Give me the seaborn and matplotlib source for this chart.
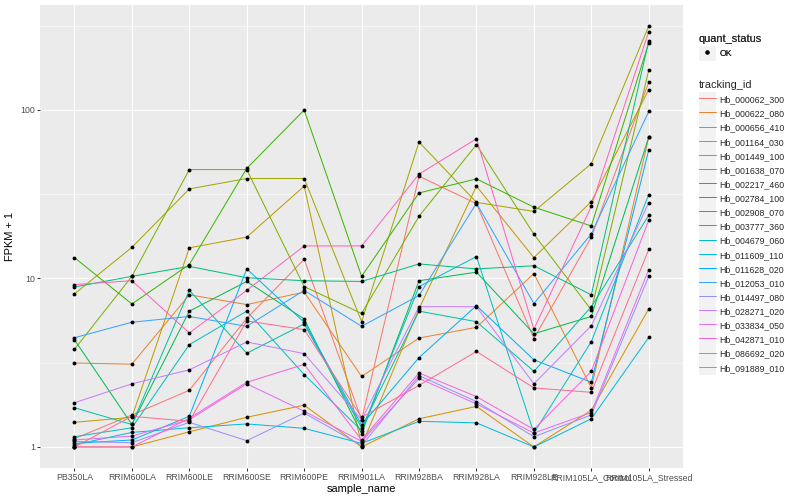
import matplotlib
matplotlib.use('Agg')
from matplotlib import pyplot as plt
from matplotlib.lines import Line2D
from matplotlib.patches import Rectangle
from matplotlib.legend_handler import HandlerLine2D
from matplotlib.ticker import FixedLocator, NullFormatter
import numpy as np
import pandas as pd
import seaborn as sns


samples = ['PB350LA', 'RRIM600LA', 'RRIM600LE', 'RRIM600SE', 'RRIM600PE',
           'RRIM901LA', 'RRIM928BA', 'RRIM928LA', 'RRIM928LE',
           'RRIM105LA_Control', 'RRIM105LA_Stressed']

genes = ['Hb_000062_300', 'Hb_000622_080', 'Hb_000656_410', 'Hb_001164_030',
         'Hb_001449_100', 'Hb_001638_070', 'Hb_002217_460', 'Hb_002784_100',
         'Hb_002908_070', 'Hb_003777_360', 'Hb_004679_060', 'Hb_011609_110',
         'Hb_011628_020', 'Hb_012053_010', 'Hb_014497_080', 'Hb_028271_020',
         'Hb_033834_050', 'Hb_042871_010', 'Hb_086692_020', 'Hb_091889_010']

# ggplot hue_pal()(20)
palette = ['#F8766D', '#EA8331', '#D89000', '#C09B00', '#A3A500', '#7CAE00',
           '#39B600', '#00BB4E', '#00BF7D', '#00C1A3', '#00BFC4', '#00BAE0',
           '#00B0F6', '#35A2FF', '#9590FF', '#C77CFF', '#E76BF3', '#FA62DB',
           '#FF62BC', '#FF6C91']

# FPKM + 1, one value per sample (order of samples)
hb_000062_300 = [1.12, 1.55, 2.17, 5.8, 13.0, 1.45, 40.5, 27.8, 4.4, 17.6, 146]
hb_000622_080 = [3.15, 3.1, 8.0, 7.0, 8.3, 2.62, 4.43, 5.13, 10.7, 2.24, 69]
hb_000656_410 = [1.0, 1.0, 1.23, 1.5, 1.77, 1.0, 1.47, 1.74, 1.0, 1.65, 6.6]
hb_001164_030 = [1.4, 1.5, 15.2, 17.6, 35.3, 1.02, 6.6, 35.3, 13.3, 28.6, 132]
hb_001449_100 = [8.1, 15.3, 34.0, 39.2, 39.2, 5.55, 64.5, 28.3, 25.0, 48.0, 315]
hb_001638_070 = [3.8, 10.3, 44.3, 44.3, 8.95, 6.2, 23.4, 62.3, 18.3, 6.5, 172]
hb_002217_460 = [13.3, 7.06, 12.1, 45.0, 100.0, 10.3, 32.2, 39.0, 26.5, 20.5, 250]
hb_002784_100 = [4.33, 1.36, 6.4, 9.6, 5.75, 1.2, 9.7, 10.9, 4.7, 5.95, 69]
hb_002908_070 = [8.9, 10.3, 11.8, 10.1, 9.7, 9.6, 12.2, 11.4, 11.9, 8.0, 258]
hb_003777_360 = [1.71, 1.36, 8.5, 3.6, 5.37, 1.3, 6.4, 5.54, 2.81, 6.8, 23.7]
hb_004679_060 = [1.15, 1.3, 4.05, 6.4, 2.69, 1.25, 8.95, 13.5, 1.21, 4.22, 31.5]
hb_011609_110 = [1.03, 1.22, 1.3, 1.37, 1.29, 1.05, 1.42, 1.39, 1.0, 1.47, 4.47]
hb_011628_020 = [1.05, 1.1, 1.52, 11.4, 5.5, 1.35, 3.39, 6.9, 3.29, 2.42, 58]
hb_012053_010 = [4.45, 5.5, 5.95, 5.2, 8.5, 5.2, 7.93, 28.0, 7.1, 18.4, 98]
hb_014497_080 = [1.08, 1.06, 1.4, 1.09, 1.59, 1.02, 2.65, 1.86, 1.15, 1.55, 10.3]
hb_028271_020 = [1.83, 2.37, 2.87, 4.2, 3.58, 1.45, 6.8, 6.8, 2.37, 5.24, 28.2]
hb_033834_050 = [1.1, 1.16, 1.45, 2.37, 1.63, 1.08, 2.55, 1.8, 1.21, 1.6, 11.3]
hb_042871_010 = [1.0, 1.0, 1.48, 2.42, 3.09, 1.1, 2.75, 1.99, 1.27, 2.81, 22.2]
hb_086692_020 = [9.2, 9.7, 4.75, 8.5, 15.6, 15.6, 41.6, 67.5, 5.0, 26.8, 292]
hb_091889_010 = [1.0, 1.52, 1.42, 5.6, 4.97, 1.5, 2.32, 3.69, 2.24, 2.11, 14.9]

series = [hb_000062_300, hb_000622_080, hb_000656_410, hb_001164_030,
          hb_001449_100, hb_001638_070, hb_002217_460, hb_002784_100,
          hb_002908_070, hb_003777_360, hb_004679_060, hb_011609_110,
          hb_011628_020, hb_012053_010, hb_014497_080, hb_028271_020,
          hb_033834_050, hb_042871_010, hb_086692_020, hb_091889_010]


class KeyHandler(HandlerLine2D):
    # grey ggplot-like key box behind the legend glyph
    def create_artists(self, legend, orig_handle, xdescent, ydescent,
                       width, height, fontsize, trans):
        box = Rectangle((-xdescent, -ydescent - 2), width, height + 4,
                        facecolor='#F2F2F2', edgecolor='none', transform=trans)
        arts = HandlerLine2D.create_artists(self, legend, orig_handle, xdescent,
                                            ydescent, width, height, fontsize, trans)
        return [box] + arts


def BuildData():
    rows = []
    for gene, vals in zip(genes, series):
        for i, v in enumerate(vals):
            rows.append({'tracking_id': gene, 'pos': i,
                         'sample_name': samples[i], 'fpkm': v})
    return pd.DataFrame(rows)


def PlotAll(pd_data, out):
    sns.set_theme(style='darkgrid', rc={'axes.facecolor': '#EBEBEB',
                                        'grid.color': 'white'})
    plt.rcParams['font.family'] = ['Liberation Sans', 'DejaVu Sans']
    fig = plt.figure(figsize=(800 / 72.0, 500 / 72.0), dpi=72)
    ax = fig.add_axes([0.05, 0.064, 0.804, 0.926])

    sns.lineplot(data=pd_data, x='pos', y='fpkm', hue='tracking_id',
                 hue_order=genes, palette=palette, sort=False, estimator=None,
                 linewidth=1.0, legend=False, ax=ax)
    sns.scatterplot(data=pd_data, x='pos', y='fpkm', color='black', s=15,
                    linewidth=0, legend=False, ax=ax, zorder=3)

    ax.set_yscale('log')
    lo = np.log10(pd_data['fpkm'].min())
    hi = np.log10(pd_data['fpkm'].max())
    span = hi - lo
    ax.set_ylim(10 ** (lo - 0.05 * span), 10 ** (hi + 0.05 * span))
    ax.set_xlim(-0.6, len(samples) - 0.4)

    ax.yaxis.set_major_locator(FixedLocator([1, 10, 100]))
    ax.set_yticklabels(['1', '10', '100'])
    ax.yaxis.set_minor_locator(FixedLocator([10 ** 0.5, 10 ** 1.5, 10 ** 2.5]))
    ax.yaxis.set_minor_formatter(NullFormatter())
    ax.set_xticks(range(len(samples)))
    ax.set_xticklabels(samples)

    ax.set_axisbelow(True)
    ax.grid(which='major', color='white', linewidth=1.1)
    ax.grid(which='minor', axis='y', color='white', linewidth=0.55)
    ax.tick_params(which='major', length=2.75, width=1.0, color='#333333',
                   labelcolor='#4D4D4D', labelsize=8.8, pad=2, bottom=True, left=True)
    ax.tick_params(which='minor', length=0)
    for sp in ax.spines.values():
        sp.set_visible(False)

    ax.set_xlabel('sample_name', fontsize=11, color='black', labelpad=2)
    ax.set_ylabel('FPKM + 1', fontsize=11, color='black', labelpad=5)

    handler = KeyHandler()
    ok = Line2D([], [], marker='o', color='black', linestyle='none', markersize=3.5)
    leg1 = fig.legend(handles=[ok], labels=['OK'], title='quant_status',
                      loc='upper left', bbox_to_anchor=(0.868, 0.94),
                      frameon=False, fontsize=8.8, title_fontsize=11,
                      alignment='left', borderpad=0, handlelength=1.95,
                      handleheight=1.4, handletextpad=0.4, labelspacing=0.45,
                      handler_map={Line2D: handler})
    fig.add_artist(leg1)

    lines = [Line2D([], [], color=c, linewidth=1.0) for c in palette]
    fig.legend(handles=lines, labels=genes, title='tracking_id',
               loc='upper left', bbox_to_anchor=(0.868, 0.848),
               frameon=False, fontsize=8.8, title_fontsize=11,
               alignment='left', borderpad=0, handlelength=1.95,
               handleheight=1.4, handletextpad=0.4, labelspacing=0.45,
               handler_map={Line2D: handler})

    plt.savefig(out, dpi=72)


def main():
    pd_data = BuildData()
    PlotAll(pd_data, 'out.png')


if __name__ == '__main__':
    main()
